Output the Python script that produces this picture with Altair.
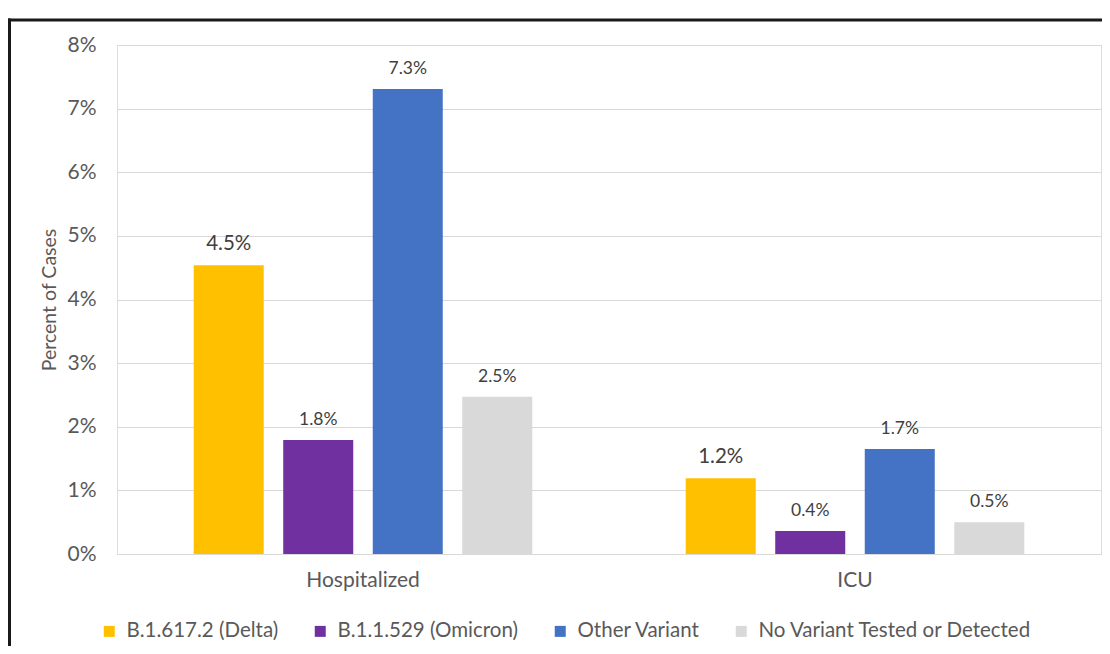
import altair as alt
import pandas as pd

categories = ["Hospitalized", "ICU"]
variants = ["B.1.617.2 (Delta)", "B.1.1.529 (Omicron)", "Other Variant", "No Variant Tested or Detected"]
colors = ["#FFC000", "#7030A0", "#4472C4", "#D9D9D9"]
hospitalized = [0.0454, 0.0179, 0.0731, 0.0247]
icu = [0.0119, 0.0036, 0.0165, 0.0050]

rows = []
for v, h, i in zip(variants, hospitalized, icu):
    rows.append({"category": "Hospitalized", "variant": v, "value": h})
    rows.append({"category": "ICU", "variant": v, "value": i})
df = pd.DataFrame(rows)

FONT = "Lato"
TXT = "#595959"

x = alt.X("category:N", sort=categories, title=None,
          scale=alt.Scale(paddingInner=0, paddingOuter=0),
          axis=alt.Axis(labelAngle=0, ticks=False, domain=False, labelPadding=15,
                        labelFontSize=21, labelColor=TXT, labelFont=FONT))
xo = alt.XOffset("variant:N", sort=variants,
                 scale=alt.Scale(paddingInner=0.218, paddingOuter=0.857))
y = alt.Y("value:Q", title="Percent of Cases",
          scale=alt.Scale(domain=[0, 0.08]),
          axis=alt.Axis(format=".0%", values=[0, 0.01, 0.02, 0.03, 0.04, 0.05, 0.06, 0.07, 0.08],
                        ticks=False, domain=False, labelPadding=21, labelFontSize=21,
                        labelColor=TXT, labelFont=FONT, gridColor="#D9D9D9", gridWidth=1.2,
                        titleFontSize=19.5, titleFontWeight="normal", titleColor=TXT,
                        titleFont=FONT, titlePadding=7))
color = alt.Color("variant:N", sort=variants,
                  scale=alt.Scale(domain=variants, range=colors),
                  legend=alt.Legend(title=None, orient="none", direction="horizontal",
                                    legendX=-18, legendY=576, symbolType="square",
                                    symbolSize=121, symbolStrokeWidth=0, labelFontSize=20.5,
                                    labelColor=TXT, labelFont=FONT, columnPadding=31,
                                    symbolOffset=0, labelOffset=7, labelLimit=500))

bars = alt.Chart(df).mark_bar().encode(x=x, xOffset=xo, y=y, color=color)

labels = alt.Chart(df).mark_text(baseline="bottom", dy=-11, color="#404040", font=FONT).encode(
    x=x, xOffset=xo, y=y,
    text=alt.Text("value:Q", format=".1%"),
    size=alt.condition(alt.datum.variant == variants[0], alt.value(20.5), alt.value(17.5)),
)

frame_df = pd.DataFrame({"k": [0]})
left_rule = alt.Chart(frame_df).mark_rule(color="#1a1a1a", strokeWidth=3).encode(
    x=alt.value(-107.5), y=alt.value(-26.5), y2=alt.value(620))
top_rule = alt.Chart(frame_df).mark_rule(color="#1a1a1a", strokeWidth=3).encode(
    x=alt.value(-109), x2=alt.value(1100), y=alt.value(-25))

chart = alt.layer(bars, labels, left_rule, top_rule).properties(
    width=984, height=509,
    autosize=alt.AutoSizeParams(type="none"),
    padding={"left": 109, "top": 37, "right": 1, "bottom": 92},
).configure_view(stroke=None).configure(background="white")

chart.save("out.html", embed_options={"renderer": "svg", "actions": False})
